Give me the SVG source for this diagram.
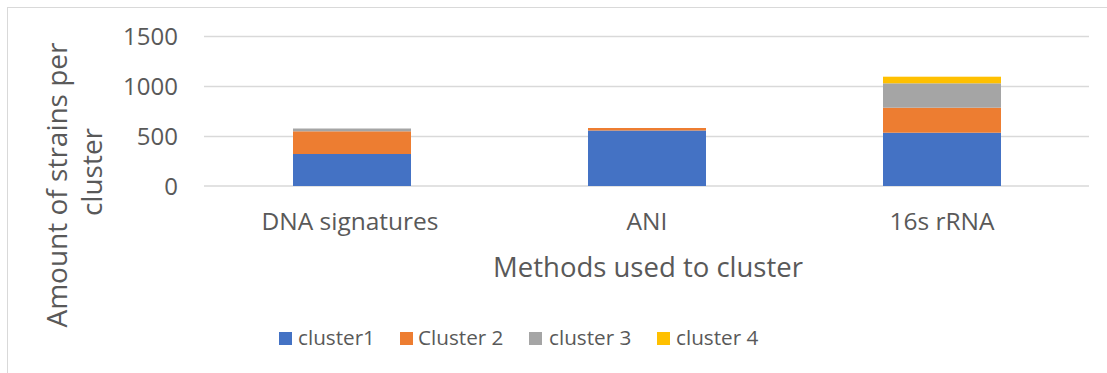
<svg xmlns="http://www.w3.org/2000/svg" width="1107" height="373" viewBox="0 0 1107 373">
<style>
text{font-family:"Open Sans","Liberation Sans",sans-serif;fill:#595959}
.tick{font-size:24px;text-anchor:end}
.cat{font-size:24.5px;text-anchor:middle}
.leg{font-size:20.7px}
.grid{stroke:#D9D9D9;stroke-width:1.5}
.c1{fill:#4472C4}.c2{fill:#ED7D31}.c3{fill:#A5A5A5}.c4{fill:#FFC000}
</style>
<rect x="7.5" y="7.5" width="1110" height="380" fill="#fff" stroke="#D9D9D9" stroke-width="1"/>
<g id="grid">
<line class="grid" x1="204" y1="36.5" x2="1089" y2="36.5"/>
<line class="grid" x1="204" y1="86.5" x2="1089" y2="86.5"/>
<line class="grid" x1="204" y1="136.5" x2="1089" y2="136.5"/>
<line class="grid" x1="204" y1="186" x2="1089" y2="186"/>
</g>
<g id="yticks">
<text class="tick" x="178" y="45">1500</text>
<text class="tick" x="178" y="95">1000</text>
<text class="tick" x="178" y="145">500</text>
<text class="tick" x="178" y="195">0</text>
</g>
<g id="bar-dna">
<rect class="c1" x="293" y="154" width="118" height="32"/>
<rect class="c2" x="293" y="131.3" width="118" height="22.7"/>
<rect class="c3" x="293" y="128.5" width="118" height="2.8"/>
</g>
<g id="bar-ani">
<rect class="c1" x="588" y="130.5" width="118" height="55.5"/>
<rect class="c2" x="588" y="128" width="118" height="2.5"/>
</g>
<g id="bar-16s">
<rect class="c1" x="883" y="132.7" width="118" height="53.3"/>
<rect class="c2" x="883" y="107.7" width="118" height="25"/>
<rect class="c3" x="883" y="83.3" width="118" height="24.4"/>
<rect class="c4" x="883" y="76.7" width="118" height="6.6"/>
</g>
<g id="xlabels">
<text class="cat" x="350" y="230">DNA signatures</text>
<text class="cat" x="647" y="230">ANI</text>
<text class="cat" x="942" y="230">16s rRNA</text>
</g>
<text x="648" y="277" font-size="27.5" text-anchor="middle">Methods used to cluster</text>
<text transform="translate(67,185) rotate(-90)" font-size="28" text-anchor="middle">Amount of strains per</text>
<text transform="translate(102,172) rotate(-90)" font-size="28" text-anchor="middle">cluster</text>
<g id="legend">
<rect class="c1" x="279" y="332" width="13" height="13"/>
<text class="leg" x="298" y="345">cluster1</text>
<rect class="c2" x="400" y="332" width="13" height="13"/>
<text class="leg" x="418" y="345">Cluster 2</text>
<rect class="c3" x="529" y="332" width="13" height="13"/>
<text class="leg" x="549" y="345">cluster 3</text>
<rect class="c4" x="657" y="332" width="13" height="13"/>
<text class="leg" x="676" y="345">cluster 4</text>
</g>
</svg>
